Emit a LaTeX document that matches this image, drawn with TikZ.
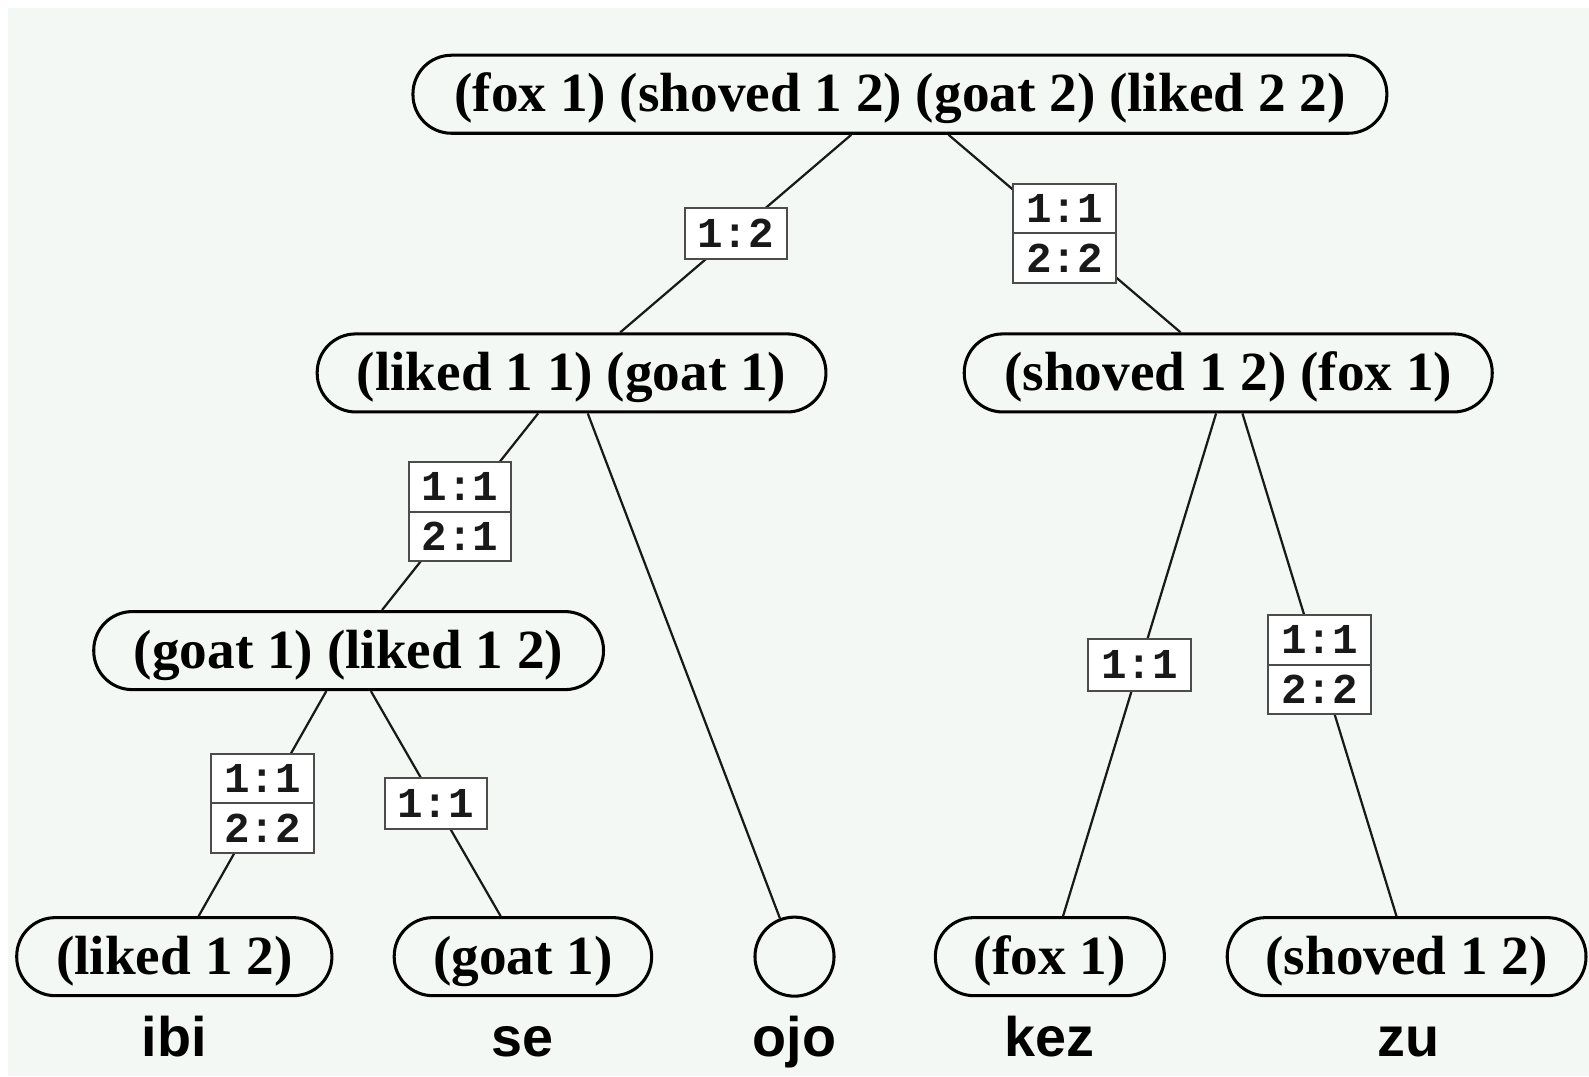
\documentclass[tikz,border=0pt]{standalone}
\usepackage{fontspec}
\setmainfont{Liberation Serif}
\newfontfamily\labfont{Liberation Mono}
\newfontfamily\wordfont{Liberation Sans}
\usetikzlibrary{shapes.multipart}
\definecolor{bgc}{RGB}{244,248,245}
\begin{document}
\begin{tikzpicture}[x=1pt,y=-1pt,
  tn/.style={draw, line width=3pt, rounded corners=38pt, fill=bgc, minimum height=77pt,
    inner xsep=0pt, text height=37pt, text depth=2pt,
    font=\fontsize{54.5}{60}\selectfont\bfseries},
  emptynode/.style={draw, line width=3pt, circle, fill=bgc, minimum size=78pt, inner sep=0pt},
  ln/.style={line width=2.2pt, black!90},
  lab1/.style={draw=black!70, line width=2pt, fill=white, font=\labfont\bfseries\fontsize{42}{42}\selectfont,
    minimum width=101pt, minimum height=51pt, inner sep=0pt},
  lab2/.style={rectangle split, rectangle split parts=2, draw=black!70, line width=2pt, fill=white,
    font=\labfont\bfseries\fontsize{42}{42}\selectfont, minimum width=101pt, inner xsep=0pt, inner ysep=9.5pt},
  word/.style={anchor=base, font=\wordfont\bfseries\fontsize{55}{55}\selectfont}]
\fill[white] (0,0) rectangle (1568,1062);
\fill[bgc] (8,8) rectangle (1568,1062);
\useasboundingbox (0,0) rectangle (1568,1062);

\node[tn, minimum width=961pt] (top) at (888,93) {(fox 1) (shoved 1 2) (goat 2) (liked 2 2)};
\node[tn, minimum width=502pt] (lg) at (564,368) {(liked 1 1) (goat 1)};
\node[tn, minimum width=521pt] (sf) at (1212,368) {(shoved 1 2) (fox 1)};
\node[tn, minimum width=503pt] (gl) at (344,642) {(goat 1) (liked 1 2)};
\node[tn, minimum width=311pt] (ibi) at (172,944) {(liked 1 2)};
\node[tn, minimum width=254pt] (se) at (516,944) {(goat 1)};
\node[emptynode] (ojo) at (784,944) {};
\node[tn, minimum width=226pt] (kez) at (1036,944) {(fox 1)};
\node[tn, minimum width=354pt] (zu) at (1388,944) {(shoved 1 2)};

\node[word] (wibi) at (172,1043) {ibi};
\node[word] (wse) at (516,1043) {se};
\node[word] (wojo) at (784,1043) {ojo};
\node[word] (wkez) at (1036,1043) {kez};
\node[word] (wzu) at (1390,1043) {zu};

\draw[ln] ([xshift=-48pt]top.south) -- node[lab1] (l1) {1:2} ([xshift=48pt]lg.north);
\draw[ln] ([xshift=48pt]top.south) -- node[lab2] (l2) {1:1\nodepart{two}2:2} ([xshift=-47pt]sf.north);
\draw[ln] ([xshift=-33pt]lg.south) -- node[lab2] (l3) {1:1\nodepart{two}2:1} ([xshift=33pt]gl.north);
\draw[ln] ([xshift=16pt]lg.south) -- (ojo);
\draw[ln] ([xshift=-22pt]gl.south) -- node[lab2] (l4) {1:1\nodepart{two}2:2} ([xshift=24pt]ibi.north);
\draw[ln] ([xshift=22pt]gl.south) -- node[lab1] (l5) {1:1} ([xshift=-22pt]se.north);
\draw[ln] ([xshift=-12pt]sf.south) -- node[lab1] (l6) {1:1} ([xshift=13pt]kez.north);
\draw[ln] ([xshift=14pt]sf.south) -- node[lab2] (l7) {1:1\nodepart{two}2:2} ([xshift=-10pt]zu.north);
\end{tikzpicture}
\end{document}
